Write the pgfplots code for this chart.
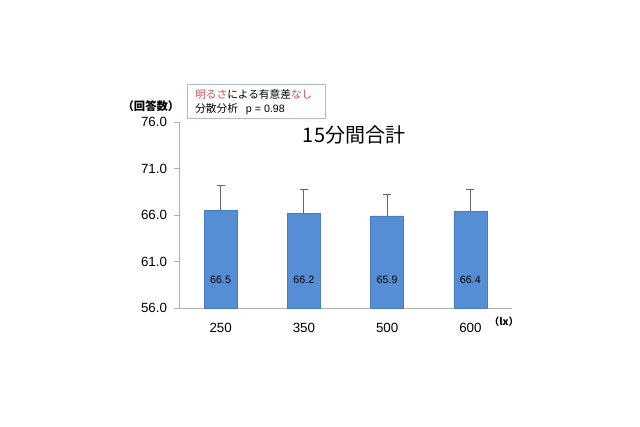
\documentclass[border=0pt]{standalone}
\usepackage{pgfplots}
\pgfplotsset{compat=1.18}
\usepackage{fontspec}
\setmainfont{Liberation Sans}
\newfontfamily\jp{Noto Sans CJK JP}
\definecolor{barblue}{HTML}{558ED5}
\definecolor{barline}{HTML}{4A7EBB}
\definecolor{axgray}{HTML}{B0B0B0}
\definecolor{sigred}{HTML}{D0505A}
\definecolor{boxline}{HTML}{A9BDDA}
\begin{document}
\begin{tikzpicture}[x=0.75pt,y=0.75pt]
\useasboundingbox (0,0) rectangle (640,426);
\begin{axis}[
    at={(179pt*0.75,118pt*0.75)}, anchor=south west,
    scale only axis,
    width=249.75pt, height=139.5pt,
    xmin=-0.5, xmax=3.5,
    ymin=56, ymax=76,
    ytick={56,61,66,71,76},
    /pgf/number format/assume math mode=true,
    xtick={0,1,2,3},
    xticklabels={250,350,500,600},
    extra x ticks={-0.5,0.5,1.5,2.5,3.5},
    extra x tick labels={},
    extra x tick style={major tick length=3pt, tick style={axgray}},
    axis x line*=bottom, axis y line*=left,
    axis line style={axgray,-},
    x tick style={draw=none},
    y tick style={axgray},
    tick align=outside,
    major tick length=3.5pt,
    ticklabel style={font=\fontsize{10}{12}\selectfont, black},
    xticklabel style={yshift=-4pt},
    yticklabel style={xshift=-2pt, /pgf/number format/fixed, /pgf/number format/fixed zerofill, /pgf/number format/precision=1},
    ybar, bar width=24.75pt,
    clip=false,
]
\addplot[fill=barblue, draw=barline, line width=0.3pt,
    error bars/.cd, y dir=plus, y explicit,
    error bar style={line width=0.6pt, draw=gray!80!black},
    error mark options={rotate=90, mark size=3pt, line width=0.6pt, gray!80!black}]
    coordinates {(0,66.5) +- (0,2.7) (1,66.2) +- (0,2.5) (2,65.9) +- (0,2.3) (3,66.4) +- (0,2.4)};
\node[font=\fontsize{8}{9}\selectfont] at (axis cs:0,59) {66.5};
\node[font=\fontsize{8}{9}\selectfont] at (axis cs:1,59) {66.2};
\node[font=\fontsize{8}{9}\selectfont] at (axis cs:2,59) {65.9};
\node[font=\fontsize{8}{9}\selectfont] at (axis cs:3,59) {66.4};
\end{axis}
\node[font=\jp\fontsize{15}{17}\selectfont] at (354,291) {15分間合計};
\node[font=\jp\bfseries\fontsize{8.5}{10}\selectfont] at (151,320) {（回答数）};
\node[font=\jp\bfseries\fontsize{7.5}{9}\selectfont] at (504,104) {（lx）};
\draw[boxline, line width=0.6pt] (187,308) rectangle (325,342);
\node[anchor=west, font=\jp\fontsize{8}{9}\selectfont, inner sep=0] at (195,332) {\textcolor{sigred}{明るさ}による有意差\textcolor{sigred}{なし}};
\node[anchor=west, font=\jp\fontsize{8}{9}\selectfont, inner sep=0] at (195,316.5) {分散分析\hspace{6pt}{\fontspec{Liberation Sans}p = 0.98}};
\end{tikzpicture}
\end{document}
